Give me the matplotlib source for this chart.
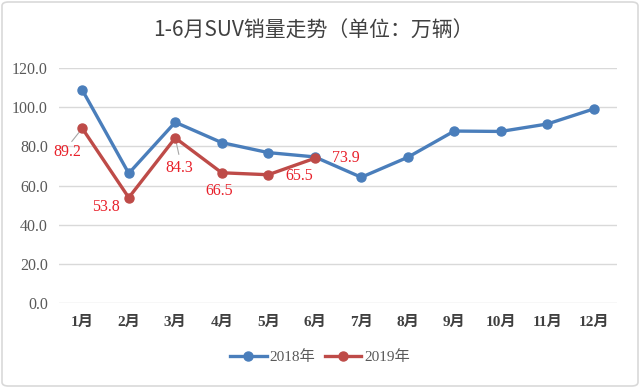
import matplotlib
matplotlib.use("Agg")
import matplotlib.pyplot as plt
from matplotlib.patches import FancyBboxPatch
from matplotlib.lines import Line2D

months = ["1月", "2月", "3月", "4月", "5月", "6月", "7月", "8月", "9月", "10月", "11月", "12月"]
sales_2018 = [108.8, 66.2, 92.3, 81.9, 76.8, 74.6, 64.2, 74.4, 87.8, 87.6, 91.4, 99.1]
sales_2019 = [89.2, 53.8, 84.3, 66.5, 65.5, 73.9]
yticks = [0, 20, 40, 60, 80, 100, 120]
title = "1-6月SUV销量走势（单位：万辆）"
series_names = ["2018年", "2019年"]

serif = ["Liberation Serif", "Noto Sans CJK SC"]
blue = "#4A7EBB"
red = "#BE4B48"

fig = plt.figure(figsize=(6.4, 3.88), dpi=100)
W, H = 640, 388
ax = fig.add_axes([59 / W, 1 - 303 / H, (617 - 59) / W, (303 - 68) / H])

x = list(range(1, 13))
ax.plot(x, sales_2018, color=blue, lw=2.4, marker="o", ms=6.5, solid_capstyle="round", zorder=3)
ax.plot(x[:len(sales_2019)], sales_2019, color=red, lw=2.4, marker="o", ms=6.5, solid_capstyle="round", zorder=4)

ax.set_xlim(0.5, 12.5)
ax.set_ylim(0, 120)
ax.set_yticks(yticks)
ax.set_yticklabels([f"{v:.1f}" for v in yticks], family=serif, fontsize=11.5, color="#595959")
ax.set_xticks(x)
ax.set_xticklabels(months, family=serif, fontsize=11, fontweight="bold", color="#404040")
ax.tick_params(axis="both", length=0)
ax.tick_params(axis="y", pad=8)
ax.tick_params(axis="x", pad=9)
ax.grid(axis="y", color="#D9D9D9", lw=1)
ax.set_axisbelow(True)
for s in ax.spines.values():
    s.set_visible(False)

# data labels (offsets in pixels)
offsets = [(-15, -24), (-23, -9), (4, -30), (-3, -18), (31, -1), (31, 0)]
leaders = [True, False, True, False, False, False]
for i, (v, (dx, dy), ld) in enumerate(zip(sales_2019, offsets, leaders)):
    ax.annotate(f"{v:.1f}", xy=(x[i], v), xytext=(dx, dy), textcoords="offset pixels",
                ha="center", va="center", family=serif, fontsize=11.5, color="#E8202A", zorder=5)
    if ld:
        ax.annotate("", xy=(x[i], v), xytext=(dx * 0.9 + (3 if dx < 0 else 0), dy * 0.55),
                    textcoords="offset pixels",
                    arrowprops=dict(arrowstyle="-", color="#A6A6A6", lw=0.8, shrinkA=0, shrinkB=4))

fig.text(313 / W, 1 - 31 / H, title, ha="center", va="center",
         family=["Noto Sans CJK SC", "DejaVu Sans"], fontsize=15, color="#404040")

handles = [Line2D([], [], color=blue, lw=2.4, marker="o", ms=6.5),
           Line2D([], [], color=red, lw=2.4, marker="o", ms=6.5)]
fig.legend(handles, series_names, loc="center", bbox_to_anchor=(320 / W, 1 - 357 / H),
           ncol=2, frameon=False, prop={"family": serif, "size": 11},
           handlelength=2.4, columnspacing=0.6, handletextpad=0.2, labelcolor="#595959")

border = FancyBboxPatch((2 / W, 2 / H), 636 / W, 384 / H, boxstyle="round,pad=0,rounding_size=0.01",
                        transform=fig.transFigure, fill=False, ec="#D9D9D9", lw=1.2)
fig.patches.append(border)

fig.savefig("out.png", dpi=100)
